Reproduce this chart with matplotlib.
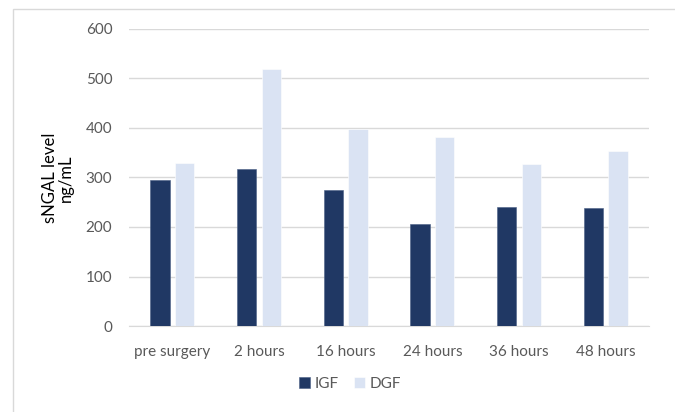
import numpy as np
import matplotlib.pyplot as plt
from matplotlib.patches import Rectangle

categories = ["pre surgery", "2 hours", "16 hours", "24 hours", "36 hours", "48 hours"]
igf = [294, 317, 275, 206, 240, 238]
dgf = [330, 520, 398, 381, 328, 353]

plt.rcParams['font.family'] = ['Lato', 'DejaVu Sans']

fig = plt.figure(figsize=(6.75, 4.12), dpi=100)
ax = fig.add_axes([129/675, 1 - 326/412, 520/675, 297/412])

x = np.arange(len(categories))
w = 0.223
off = (w + 0.058) / 2
ax.bar(x - off, igf, w, color="#203864", edgecolor="#4a5f85", linewidth=0.4, label="IGF", zorder=3)
ax.bar(x + off, dgf, w, color="#DAE3F3", edgecolor="white", linewidth=0.4, label="DGF", zorder=3)

ax.set_xlim(-0.5, len(categories) - 0.5)
ax.set_ylim(0, 600)
ax.set_yticks(range(0, 601, 100))
ax.set_xticks(x)
ax.set_xticklabels(categories)
ax.grid(axis="y", color="#d9d9d9", linewidth=1, zorder=0)
for s in ["top", "right", "left"]:
    ax.spines[s].set_visible(False)
ax.spines["bottom"].set_color("#d9d9d9")
ax.tick_params(axis="both", length=0, labelsize=11, colors="#595959")
ax.tick_params(axis="x", pad=14)
ax.tick_params(axis="y", pad=12)

fig.text(58/675, 1 - 178/412, "sNGAL level\nng/mL", rotation=90, ha="center", va="center",
         fontsize=12, color="black", linespacing=1.0)

fig.legend(loc="center", bbox_to_anchor=(350/675, 1 - 384/412), ncol=2, frameon=False,
           fontsize=11, handlelength=0.7, handleheight=0.7, handletextpad=0.3, columnspacing=1.0,
           labelcolor="#595959")

fig.add_artist(Rectangle((13/675, -0.05), 1.0, 1 - 9/412 + 0.05, transform=fig.transFigure,
                         fill=False, edgecolor="#d9d9d9", linewidth=1))

fig.savefig("out.png", dpi=100)
